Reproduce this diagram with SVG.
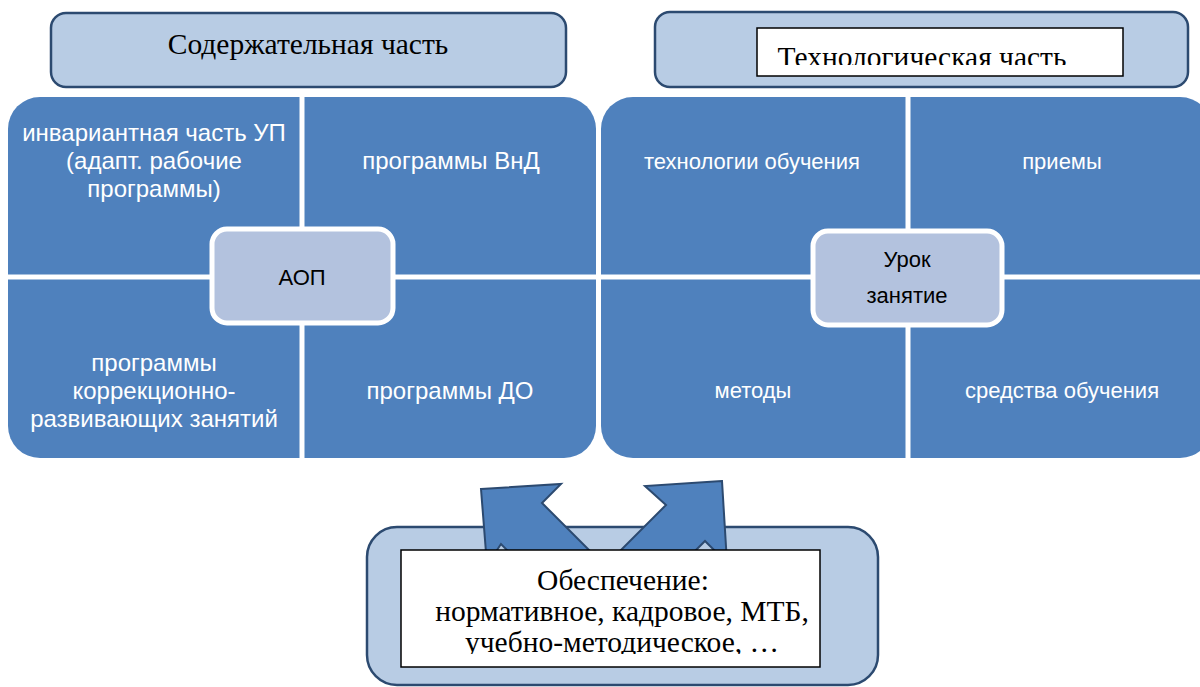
<svg xmlns="http://www.w3.org/2000/svg" width="1200" height="687" viewBox="0 0 1200 687">
<style>
.hdr{fill:#b8cce4;stroke:#2c4a70;stroke-width:2.5}
.quad{fill:#4f81bd}
.ctr{fill:#b3c2de;stroke:#ffffff;stroke-width:5}
.qt{font-family:"Liberation Sans",Arial,sans-serif;font-size:24px;fill:#ffffff;text-anchor:middle}
.qr{font-family:"Liberation Sans",Arial,sans-serif;font-size:22px;fill:#ffffff;text-anchor:middle}
.ct{font-family:"Liberation Sans",Arial,sans-serif;font-size:22px;fill:#000000;text-anchor:middle}
.st{font-family:"Liberation Serif","Times New Roman",serif;font-size:29.5px;fill:#000000;text-anchor:middle}
.bt{font-family:"Liberation Serif","Times New Roman",serif;font-size:29.5px;fill:#000000;text-anchor:middle}
.arr{fill:#4f81bd;stroke:#2c4a70;stroke-width:2;stroke-linejoin:miter}
.wbox{fill:#ffffff;stroke:#000000;stroke-width:1.5}
</style>
<defs>
<clipPath id="clipTech"><rect x="757" y="28" width="366" height="37"/></clipPath>
<clipPath id="clipBot"><rect x="401" y="550" width="419" height="104"/></clipPath>
</defs>
<rect width="1200" height="687" fill="#ffffff"/>

<g id="header-content">
<rect class="hdr" x="51" y="13" width="515" height="74" rx="15"/>
<text class="st" x="308" y="54">Содержательная часть</text>
</g>

<g id="header-tech">
<rect class="hdr" x="655" y="12" width="533" height="75" rx="15"/>
<rect class="wbox" x="757" y="28" width="366" height="48"/>
<text class="st" x="922" y="67" clip-path="url(#clipTech)">Технологическая часть</text>
</g>

<g id="matrix-left">
<path id="q-invariant" class="quad" d="M8,129 A32,32 0 0 1 40,97 H299.5 V274.5 H8 Z"/>
<path id="q-vnd" class="quad" d="M304.5,97 H564 A32,32 0 0 1 596,129 V274.5 H304.5 Z"/>
<path id="q-korr" class="quad" d="M8,279.5 H299.5 V458 H40 A32,32 0 0 1 8,426 Z"/>
<path id="q-do" class="quad" d="M304.5,279.5 H596 V426 A32,32 0 0 1 564,458 H304.5 Z"/>
<text class="qt" x="154" y="141">инвариантная часть УП</text>
<text class="qt" x="154" y="169">(адапт. рабочие</text>
<text class="qt" x="154" y="197">программы)</text>
<text class="qt" x="451" y="169">программы ВнД</text>
<text class="qt" x="154" y="371">программы</text>
<text class="qt" x="154" y="399">коррекционно-</text>
<text class="qt" x="154" y="427">развивающих занятий</text>
<text class="qt" x="450" y="399">программы ДО</text>
</g>

<g id="node-aop">
<rect class="ctr" x="212" y="229" width="181" height="94" rx="15"/>
<text class="ct" x="302" y="285">АОП</text>
</g>

<g id="matrix-right">
<path id="q-tech" class="quad" d="M601,129 A32,32 0 0 1 633,97 H905.5 V274.5 H601 Z"/>
<path id="q-priemy" class="quad" d="M910.5,97 H1180 A32,32 0 0 1 1212,129 V274.5 H910.5 Z"/>
<path id="q-metody" class="quad" d="M601,279.5 H905.5 V458 H633 A32,32 0 0 1 601,426 Z"/>
<path id="q-sredstva" class="quad" d="M910.5,279.5 H1212 V426 A32,32 0 0 1 1180,458 H910.5 Z"/>
<text class="qr" x="752" y="169">технологии обучения</text>
<text class="qr" x="1062" y="169">приемы</text>
<text class="qr" x="753" y="398">методы</text>
<text class="qr" x="1062" y="398">средства обучения</text>
</g>

<g id="node-urok">
<rect class="ctr" x="813" y="231" width="189" height="94" rx="15"/>
<text class="ct" x="907" y="267">Урок</text>
<text class="ct" x="907" y="303">занятие</text>
</g>

<g id="node-support">
<rect class="hdr" x="367" y="527" width="511" height="158" rx="30"/>
</g>

<g id="connectors">
<polygon class="arr" points="481,489 561,484 542,503 620,581 578,622 501,544 487,565"/>
<polygon class="arr" points="722,481 645,486 666,505 605,566 643,603 705,541 727,563"/>
</g>

<g id="support-text">
<rect class="wbox" x="401" y="550" width="419" height="117"/>
<g clip-path="url(#clipBot)">
<text class="bt" x="623" y="590">Обеспечение:</text>
<text class="bt" x="622" y="621">нормативное, кадровое, МТБ,</text>
<text class="bt" x="622" y="652">учебно-методическое, …</text>
</g>
</g>
</svg>
